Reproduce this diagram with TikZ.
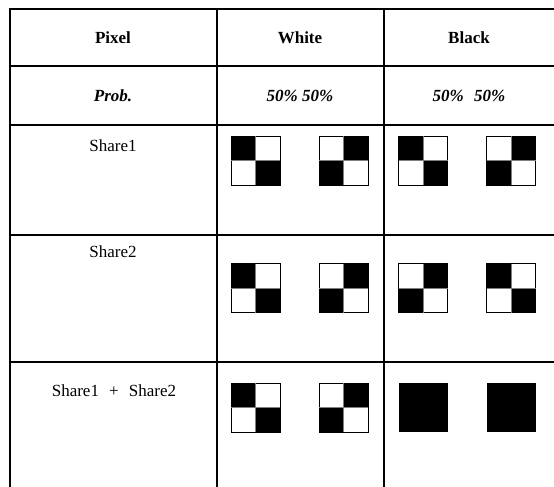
\documentclass[tikz,border=0pt]{standalone}
\usepackage{fontspec}
\setmainfont{Liberation Serif}
\begin{document}
\begin{tikzpicture}[x=1pt,y=-1pt,
  grid/.style={line width=2pt,black},
  head/.style={font=\fontsize{17}{20}\selectfont\bfseries, anchor=base},
  prob/.style={font=\fontsize{17}{20}\selectfont\bfseries\itshape, anchor=base},
  lab/.style={font=\fontsize{17}{20}\selectfont, anchor=base},
  sqout/.style={draw=black,line width=0.8pt},
  diagA/.pic={
    \fill[black] (0,0) rectangle (24.5,24.5);
    \fill[black] (24.5,24.5) rectangle (49,49);
    \draw[sqout] (0,0) rectangle (49,49);
    \draw[line width=0.5pt,gray] (24.5,0) -- (24.5,49) (0,24.5) -- (49,24.5);
  },
  diagB/.pic={
    \fill[black] (24.5,0) rectangle (49,24.5);
    \fill[black] (0,24.5) rectangle (24.5,49);
    \draw[sqout] (0,0) rectangle (49,49);
    \draw[line width=0.5pt,gray] (24.5,0) -- (24.5,49) (0,24.5) -- (49,24.5);
  },
  full/.pic={
    \fill[black] (0,0) rectangle (49,49);
  }]
\useasboundingbox (0,0) rectangle (554,487);
% grid
\draw[grid] (10,9) -- (560,9);
\draw[grid] (10,66) -- (560,66);
\draw[grid] (10,125) -- (560,125);
\draw[grid] (10,234.5) -- (560,234.5);
\draw[grid] (10,362) -- (560,362);
\draw[grid] (10,8) -- (10,495);
\draw[grid] (216.7,8) -- (216.7,495);
\draw[grid] (383.7,8) -- (383.7,495);
% header
\node[head] (hpix) at (113,44) {Pixel};
\node[head] (hwhite) at (300,44) {White};
\node[head] (hblack) at (469,44) {Black};
\node[prob] (pprob) at (113,101) {Prob.};
\node[prob] (pwhite) at (300,101) {50\% 50\%};
\node[prob] (pblack) at (469,101) {50\%\hspace{0.6em}50\%};
\node[lab] (s1) at (113,151) {Share1};
\node[lab] (s2) at (113,257) {Share2};
\node[lab] (s12) at (114,396) {Share1\hspace{0.6em}+\hspace{0.6em}Share2};
% share1
\pic at (231,136) {diagA};
\pic at (319,136) {diagB};
\pic at (398.5,136) {diagA};
\pic at (486.5,136) {diagB};
% share2
\pic at (231,263.5) {diagA};
\pic at (319,263.5) {diagB};
\pic at (398.5,263.5) {diagB};
\pic at (486.5,263.5) {diagA};
% sum
\pic at (231,383) {diagA};
\pic at (319,383) {diagB};
\pic at (398.5,383) {full};
\pic at (486.5,383) {full};
\end{tikzpicture}
\end{document}
